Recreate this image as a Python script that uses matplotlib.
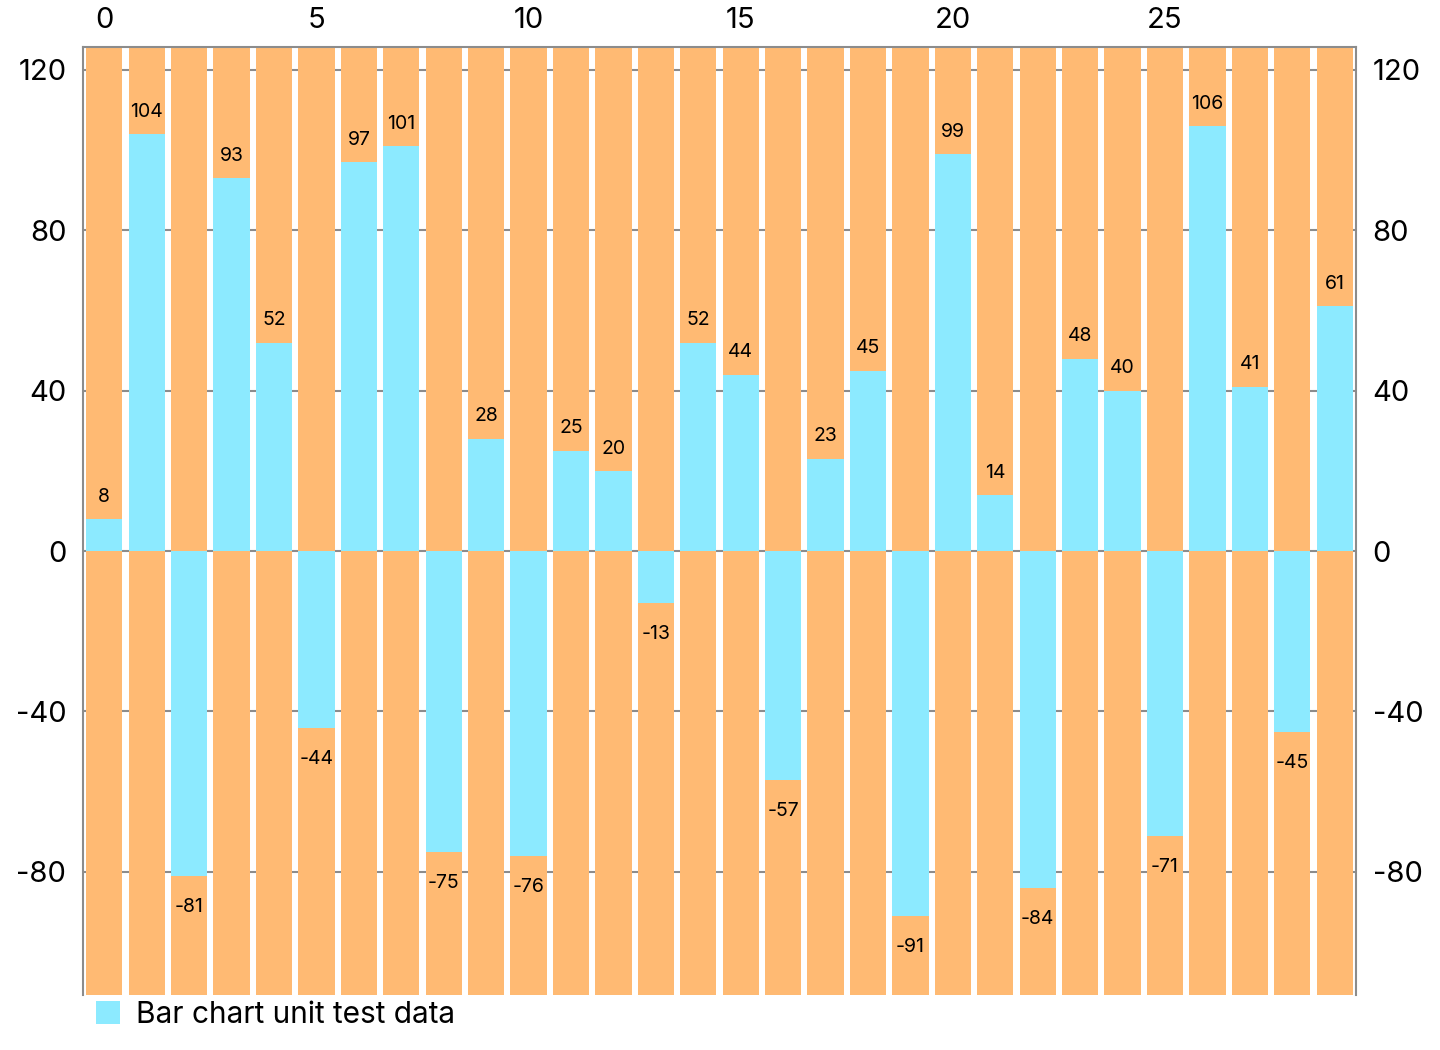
import matplotlib
matplotlib.use("Agg")
import matplotlib.pyplot as plt

plt.rcParams['font.family'] = ['Inter', 'DejaVu Sans']
plt.rcParams['axes.unicode_minus'] = False

# donnees du graphique
values = [8, 104, -81, 93, 52, -44, 97, 101, -75, 28,
          -76, 25, 20, -13, 52, 44, -57, 23, 45, -91,
          99, 14, -84, 48, 40, -71, 106, 41, -45, 61]
x_ticks = [0, 5, 10, 15, 20, 25]
y_ticks = [-80, -40, 0, 40, 80, 120]
series_label = 'Bar chart unit test data'

blue = '#8CEAFF'
orange = '#FFBA73'
gray = '#8C8C8C'

x = list(range(len(values)))
span = max(values) - min(values)
ymin = min(values) - 0.1 * span
ymax = max(values) + 0.1 * span

fig = plt.figure(figsize=(14.4, 10.5), dpi=100)
ax = fig.add_axes([83 / 1440, 1 - 995 / 1050, (1356 - 83) / 1440, (995 - 47) / 1050])

# barres d'ombre (pleine hauteur)
ax.bar(x, [ymax - ymin] * len(values), bottom=ymin, width=0.855, color=orange, zorder=1)
ax.bar(x, values, width=0.855, color=blue, label=series_label, zorder=2)

for xi, v in zip(x, values):
    if v >= 0:
        ax.annotate(str(v), (xi, v), xytext=(0, 12.5), textcoords='offset points',
                    ha='center', va='baseline', fontsize=14, zorder=3)
    else:
        ax.annotate(str(v), (xi, v), xytext=(0, -16), textcoords='offset points',
                    ha='center', va='top', fontsize=14, zorder=3)

ax.set_xlim(-0.5, len(values) - 0.5)
ax.set_ylim(ymin, ymax)

ax.xaxis.tick_top()
ax.set_xticks(x_ticks)
ax.set_xticklabels([str(t) for t in x_ticks])
ax.set_yticks(y_ticks)
ax.set_yticklabels([str(t) for t in y_ticks])
ax.tick_params(axis='x', length=0, pad=9.5, labelsize=21)
ax.tick_params(axis='y', length=0, pad=12, labelsize=21, labelright=True)

ax.yaxis.grid(True, color=gray, linewidth=1.5, zorder=0)
ax.set_axisbelow(True)
for side in ['left', 'right', 'top']:
    ax.spines[side].set_color(gray)
    ax.spines[side].set_linewidth(1.5)
ax.spines['bottom'].set_visible(False)

ax.legend(loc='upper left', bbox_to_anchor=(96 / 1440, 1 - 1001 / 1050),
          bbox_transform=fig.transFigure, frameon=False, fontsize=21.5,
          handlelength=0.8, handleheight=0.8, handletextpad=0.55,
          borderpad=0, borderaxespad=0)

fig.savefig('out.png', dpi=100)
